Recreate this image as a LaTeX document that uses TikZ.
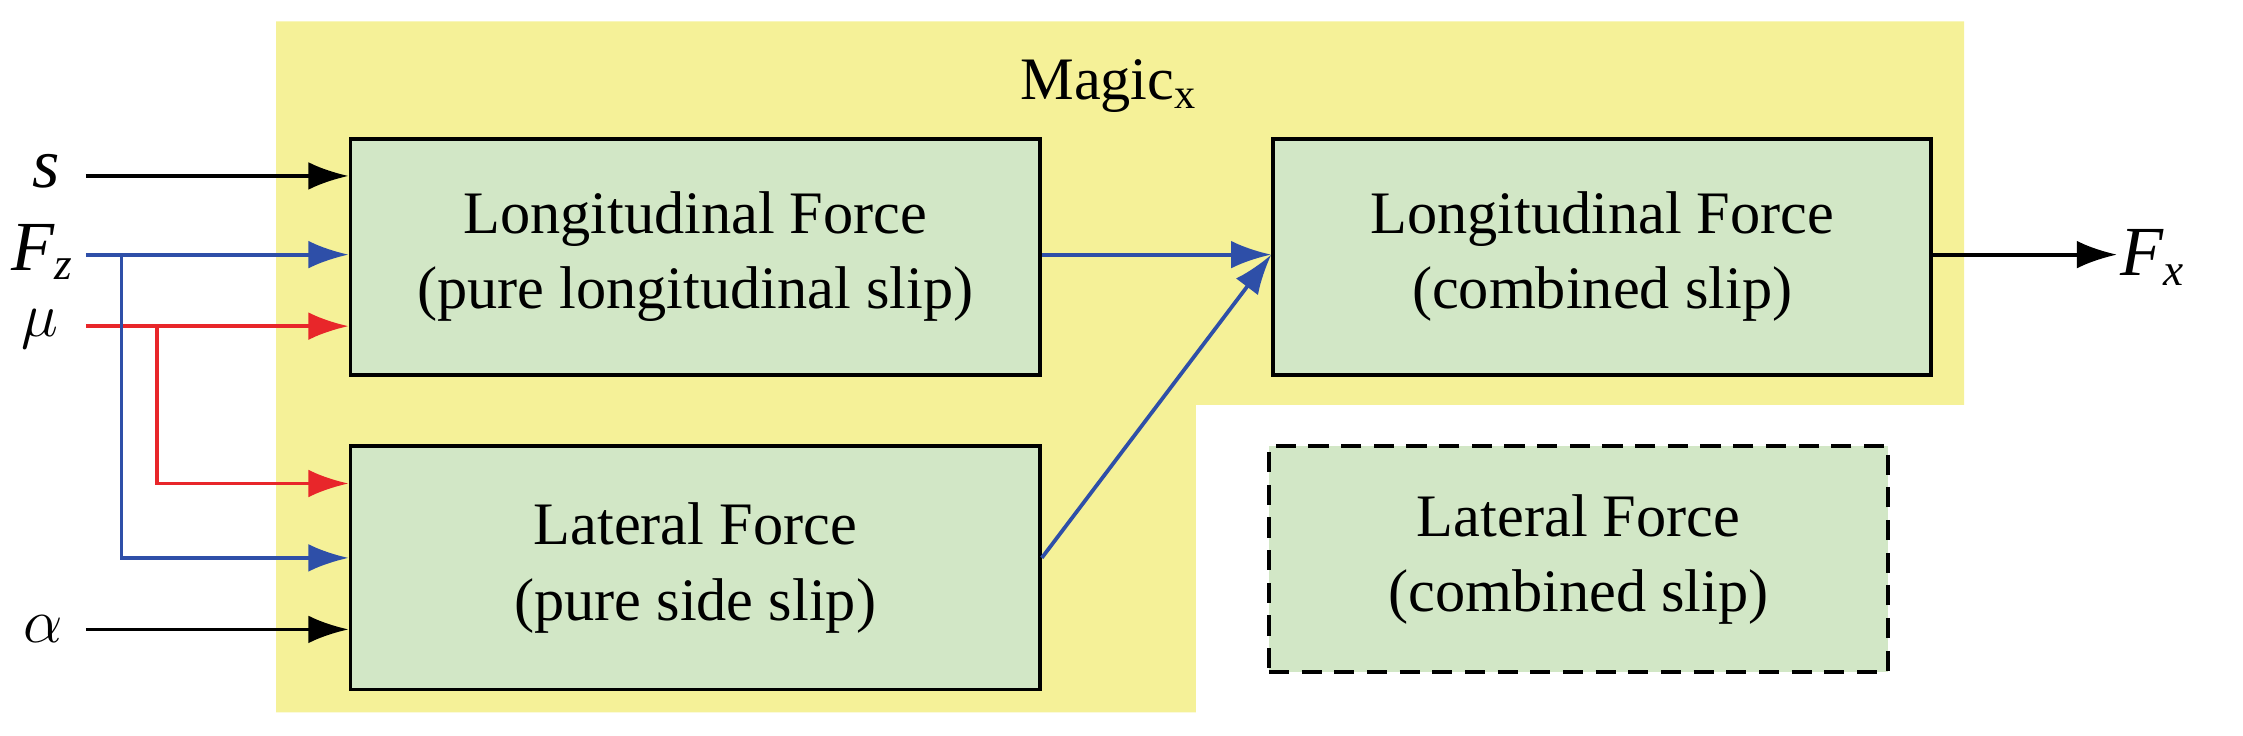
\documentclass[tikz,border=0pt]{standalone}
\usepackage{fontspec}
\setmainfont{Liberation Serif}
\usetikzlibrary{arrows.meta}
\definecolor{yel}{HTML}{F5F198}
\definecolor{grn}{HTML}{D2E7C6}
\definecolor{blu}{HTML}{2E4FA8}
\definecolor{rd}{HTML}{E8262A}
\begin{document}
\begin{tikzpicture}[x=0.02cm,y=-0.02cm,
  box/.style={draw,line width=1.5pt,fill=grn,align=center,inner sep=0pt,font=\fontsize{24}{30}\selectfont},
  arr/.style={line width=1.5pt,-{Latex[length=16pt,width=11pt]}},
  lab/.style={font=\fontsize{28}{30}\selectfont\itshape}]
\useasboundingbox (0,0) rectangle (1568,514.5);
\fill[yel] (193,15) -- (1373,15) -- (1373,283) -- (836,283) -- (836,498) -- (193,498) -- cycle;
\node[font=\fontsize{24}{29}\selectfont] (mg) at (775,60) {Magic\textsubscript{x}};
\node[box,minimum width=9.64cm,minimum height=3.3cm] (b1) at (486,179.5) {Longitudinal Force\\(pure longitudinal slip)};
\node[box,minimum width=9.64cm,minimum height=3.4cm] (b2) at (486,397) {Lateral Force\\(pure side slip)};
\node[box,minimum width=9.2cm,minimum height=3.3cm] (b3) at (1120,179.5) {Longitudinal Force\\(combined slip)};
\node[box,dash pattern=on 8pt off 5pt,minimum width=8.66cm,minimum height=3.16cm] (b4) at (1103.5,391) {Lateral Force\\(combined slip)};
\node[lab] (s) at (32,120) {s};
\node[lab] (fz) at (30,176) {F\textsubscript{\fontsize{18}{20}\selectfont z}};
\node[lab] (mu) at (28,230) {$\mu$};
\node[lab] (al) at (30,440) {$\alpha$};
\node[lab] (fx) at (1505,180) {F\textsubscript{\fontsize{18}{20}\selectfont x}};
\coordinate (a1) at (60,123); \coordinate (e1) at (b1.west|-a1);
\coordinate (a2) at (60,178); \coordinate (e2) at (b1.west|-a2);
\coordinate (a3) at (60,228); \coordinate (e3) at (b1.west|-a3);
\coordinate (r1) at (110,228); \coordinate (r2) at (110,338); \coordinate (e4) at (b2.west|-r2);
\coordinate (k1) at (85,178); \coordinate (k2) at (85,390); \coordinate (e5) at (b2.west|-k2);
\coordinate (a6) at (60,440); \coordinate (e6) at (b2.west|-a6);
\coordinate (o1) at (b1.east|-a2); \coordinate (o2) at (b2.east|-k2);
\coordinate (i3) at (b3.west|-a2); \coordinate (o3) at (b3.east|-a2); \coordinate (fxe) at (1480,178);
\draw[arr] (a1) -- (e1);
\draw[arr,blu] (a2) -- (e2);
\draw[arr,rd] (a3) -- (e3);
\draw[arr,rd] (r1) -- (r2) -- (e4);
\draw[arr,blu] (k1) -- (k2) -- (e5);
\draw[arr] (a6) -- (e6);
\draw[arr,blu] (o1) -- (i3);
\draw[arr,blu] (o2) -- (i3);
\draw[arr] (o3) -- (fxe);
\end{tikzpicture}
\end{document}
